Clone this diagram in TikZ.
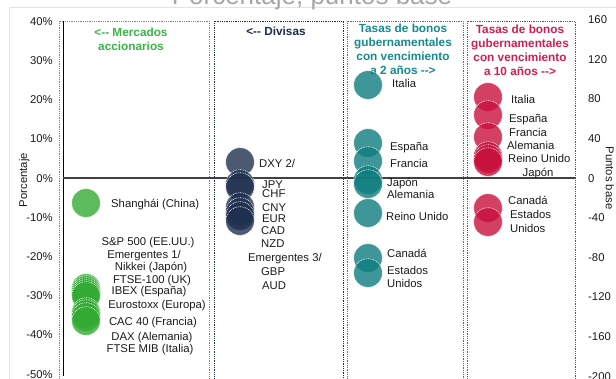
\documentclass[tikz,border=0pt]{standalone}
\usepackage{fontspec}
\setmainfont{Liberation Sans}[Ligatures=TeXOff]
\definecolor{cgreen}{HTML}{33AA33}
\definecolor{cgreenT}{HTML}{3CB34A}
\definecolor{cnavy}{HTML}{1F2F4F}
\definecolor{cnavyT}{HTML}{1F2D4A}
\definecolor{cteal}{HTML}{0E7C7E}
\definecolor{ctealT}{HTML}{168A8C}
\definecolor{cred}{HTML}{C8103C}
\definecolor{credT}{HTML}{D21E4E}
\definecolor{cyel}{HTML}{EEEE90}
\definecolor{ctxt}{HTML}{1A1A1A}
\begin{document}
\begin{tikzpicture}[x=1pt,y=-1pt,
  lbl/.style={font=\fontsize{11.3}{13}\selectfont, inner sep=0pt, text=ctxt, text height=8.2pt, text depth=0pt},
  tick/.style={lbl},
  hdr/.style={font=\bfseries\fontsize{11.8}{14}\selectfont, inner sep=0pt, align=center, text=#1},
  bub/.style={circle, minimum size=28.6pt, inner sep=0pt, fill=#1, fill opacity=0.8, draw=white, draw opacity=0.9, dash pattern=on 1pt off 0.8pt, line width=0.6pt},
  dbox/.style={draw=#1, line width=0.9pt, dash pattern=on 0.9pt off 0.9pt}
]
\useasboundingbox (0,0) rectangle (616,378);
% frame and title
\draw[cyel, line width=0.9pt] (9,400) -- (9,7) -- (630,7);
\node[font=\fontsize{26}{30}\selectfont, text=black!35, anchor=base, inner sep=0pt] (title) at (312,4) {Porcentaje, puntos base};
% boxes
\draw[dbox=cgreenT] (59,400) -- (59,21) -- (209,21) -- (209,400);
\draw[dbox=cnavyT] (214,400) -- (214,21) -- (343,21) -- (343,400);
\draw[dbox=ctealT] (347,400) -- (347,21) -- (463,21) -- (463,400);
\draw[dbox=credT] (467,400) -- (467,21) -- (575,21) -- (575,400);
% axes
\coordinate (ax0) at (63,21);
\coordinate (ax1) at (63,376);
\draw[black, line width=1pt] (ax0) -- (ax1);
\coordinate (z0) at (63,178);
\coordinate (z1) at (575,178);
\draw[black!75, line width=1.1pt] (z0) -- (z1);
\foreach \v [count=\i] in {40,30,...,-50}
  \node[tick, anchor=east] (lt\i) at (53,{178-3.92*\v}) {\v\%};
\foreach \v [count=\i] in {160,120,...,-200}
  \node[tick, anchor=west] (rt\i) at (588,{178-0.99*\v}) {\v};
\node[lbl, rotate=90] (ytl) at (23,180) {Porcentaje};
\node[lbl, rotate=-90] (ytr) at (610,178) {Puntos base};
% headers
\node[hdr=cgreenT] (hg) at (131,39) {<-- Mercados\\accionarios};
\node[hdr=cnavyT] (hn) at (276,31) {<-- Divisas};
\node[hdr=ctealT] (ht) at (403,49) {Tasas de bonos\\gubernamentales\\con vencimiento\\a 2 años -->};
\node[hdr=credT] (hr) at (520,50) {Tasas de bonos\\gubernamentales\\con vencimiento\\a 10 años -->};
% green bubbles
\node[bub=cgreen] (g0) at (86,203) {};
\foreach \y [count=\i] in {288,290,292,294,296,312,314,317,321}
  \node[bub=cgreen] (g\i) at (86,\y) {};
% green labels
\node[lbl, anchor=west] (lg0) at (111,203) {Shanghái (China)};
\node[lbl] (lg1) at (148,241) {S\&P 500 (EE.UU.)};
\node[lbl] (lg2) at (144,254) {Emergentes 1/};
\node[lbl] (lg3) at (151,266) {Nikkei (Japón)};
\node[lbl] (lg4) at (152,279) {FTSE-100 (UK)};
\node[lbl] (lg5) at (149,290) {IBEX (España)};
\node[lbl] (lg6) at (157,304) {Eurostoxx (Europa)};
\node[lbl] (lg7) at (153,321) {CAC 40 (Francia)};
\node[lbl] (lg8) at (152,336) {DAX (Alemania)};
\node[lbl] (lg9) at (150,348) {FTSE MIB (Italia)};
% navy bubbles
\foreach \y [count=\i] in {162,184,187,207,212,216,221}
  \node[bub=cnavy] (n\i) at (240,\y) {};
\node[lbl, anchor=west] (ln1) at (259,163) {DXY 2/};
\node[lbl, anchor=west] (ln2) at (262,184) {JPY};
\node[lbl, anchor=west] (ln3) at (262,193) {CHF};
\node[lbl, anchor=west] (ln4) at (262,207) {CNY};
\node[lbl, anchor=west] (ln5) at (262,218) {EUR};
\node[lbl, anchor=west] (ln6) at (261,230) {CAD};
\node[lbl, anchor=west] (ln7) at (261,243) {NZD};
\node[lbl, anchor=west] (ln8) at (248,257) {Emergentes 3/};
\node[lbl, anchor=west] (ln9) at (261,271) {GBP};
\node[lbl, anchor=west] (ln10) at (262,285) {AUD};
% teal bubbles
\foreach \y [count=\i] in {85,143,161,180,184,213,258,273}
  \node[bub=cteal] (t\i) at (368,\y) {};
\node[lbl, anchor=west] (lt_1) at (392,83) {Italia};
\node[lbl, anchor=west] (lt_2) at (390,146) {España};
\node[lbl, anchor=west] (lt_3) at (390,163) {Francia};
\node[lbl, anchor=west] (lt_4) at (387,182) {Japón};
\node[lbl, anchor=west] (lt_5) at (387,194) {Alemania};
\node[lbl, anchor=west] (lt_6) at (386,216) {Reino Unido};
\node[lbl, anchor=west] (lt_7) at (387,253) {Canadá};
\node[lbl, anchor=west] (lt_8) at (387,270) {Estados};
\node[lbl, anchor=west] (lt_9) at (387,283) {Unidos};
% red bubbles
\foreach \y [count=\i] in {97,115,137,156,159,162,208,222}
  \node[bub=cred] (r\i) at (488,\y) {};
\node[lbl, anchor=west] (lr1) at (511,99) {Italia};
\node[lbl, anchor=west] (lr2) at (509,118) {España};
\node[lbl, anchor=west] (lr3) at (509,132) {Francia};
\node[lbl, anchor=west] (lr4) at (507,145) {Alemania};
\node[lbl, anchor=west] (lr5) at (508,158) {Reino Unido};
\node[lbl] (lr6) at (538,172) {Japón};
\node[lbl, anchor=west] (lr7) at (508,200) {Canadá};
\node[lbl, anchor=west] (lr8) at (510,214) {Estados};
\node[lbl, anchor=west] (lr9) at (510,228) {Unidos};
\end{tikzpicture}
\end{document}
